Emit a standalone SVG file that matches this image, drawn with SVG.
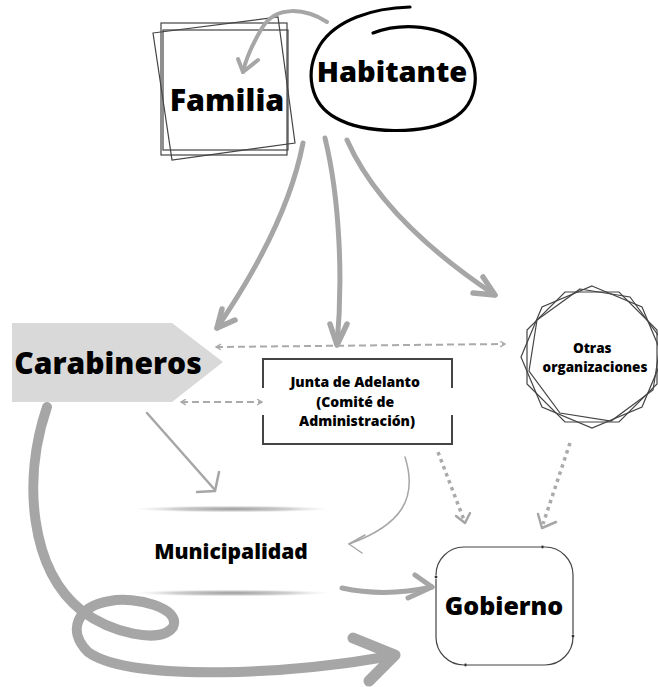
<svg xmlns="http://www.w3.org/2000/svg" width="658" height="687" viewBox="0 0 658 687">
<defs>
<style>
.lbl{font-family:"Open Sans","Noto Sans","DejaVu Sans",sans-serif;font-weight:800;fill:#000;text-anchor:middle}
.thin{fill:none;stroke:#444;stroke-width:1.2}
.g{fill:none;stroke:#a6a6a6;stroke-linecap:round;stroke-linejoin:round}
.dash{fill:none;stroke:#aaa;stroke-width:2;stroke-dasharray:7 4}
.dot{fill:none;stroke:#aaa;stroke-width:3.5;stroke-dasharray:3.5 4}
</style>
<marker id="ch" viewBox="0 0 10 10" refX="9" refY="5" markerWidth="7" markerHeight="7" orient="auto-start-reverse" markerUnits="userSpaceOnUse">
<path d="M2,1 L9,5 L2,9" fill="none" stroke="#aaa" stroke-width="2"/>
</marker>
<radialGradient id="sh" cx="0.5" cy="0.5" r="0.5">
<stop offset="0" stop-color="#999" stop-opacity="1"/>
<stop offset="0.6" stop-color="#bbb" stop-opacity="0.7"/>
<stop offset="1" stop-color="#ddd" stop-opacity="0"/>
</radialGradient>
</defs>
<rect width="658" height="687" fill="#fff"/>

<g id="familia">
<rect x="161" y="23" width="126" height="132" class="thin"/>
<rect x="163" y="30" width="125" height="120" class="thin"/>
<polygon points="153,33 278,17 295,143 172,160" class="thin"/>
<text x="227" y="111" class="lbl" font-size="30.5">Familia</text>
</g>

<g id="habitante">
<path d="M410,7 C372,8 336,20 320,45 C304,72 310,104 336,118 C364,134 424,135 452,119 C480,103 482,66 462,45 C442,25 402,22 373,33" fill="none" stroke="#000" stroke-width="3.2" stroke-linecap="round"/>
<text x="392" y="82" class="lbl" font-size="29">Habitante</text>
</g>

<g id="carabineros">
<polygon points="12,323 172,323 223,362 172,402 12,402" fill="#d9d9d9"/>
<text x="108" y="374" class="lbl" font-size="30">Carabineros</text>
</g>

<g id="junta">
<path d="M263,388 V359 H452 V388 M263,415 V444 H452 V415" fill="none" stroke="#444" stroke-width="2"/>
<text class="lbl" font-size="14">
<tspan x="357" y="387">Junta de Adelanto</tspan>
<tspan x="357" y="407">(Comité de</tspan>
<tspan x="357" y="426">Administración)</tspan>
</text>
</g>

<g id="otras">
<polygon points="592,286 642,307 663,357 642,407 592,428 542,407 521,357 542,307" class="thin"/>
<polygon points="565,292 619,292 657,330 657,384 619,422 565,422 527,384 527,330" class="thin"/>
<polygon points="580,289 630,297 661,339 653,390 611,421 560,413 529,371 537,320" class="thin"/>
<text class="lbl" font-size="13.5">
<tspan x="594" y="353">Otras</tspan>
<tspan x="595" y="372">organizaciones</tspan>
</text>
</g>

<g id="municipalidad">
<ellipse cx="232" cy="509" rx="98" ry="3.5" fill="url(#sh)"/>
<ellipse cx="232" cy="593" rx="98" ry="3.5" fill="url(#sh)"/>
<text x="231" y="559" class="lbl" font-size="21">Municipalidad</text>
</g>

<g id="gobierno">
<path d="M541,547 H464 A28,28 0 0 0 436,575" class="thin"/>
<path d="M436,579 V637 A28,28 0 0 0 464,665" class="thin"/>
<path d="M467,665 H545 A28,28 0 0 0 573,637" class="thin"/>
<path d="M573,634 V575 A28,28 0 0 0 545,547 H544" class="thin"/>
<circle cx="436" cy="577" r="1.4" fill="#333"/>
<circle cx="465.5" cy="665" r="1.4" fill="#333"/>
<circle cx="573" cy="636" r="1.4" fill="#333"/>
<circle cx="542.5" cy="547" r="1.4" fill="#333"/>
<text x="504" y="615" class="lbl" font-size="25">Gobierno</text>
</g>

<g id="connectors">
<path d="M327,22 C305,8 276,5 262,28 C252,45 246,58 243,72" class="g" stroke-width="4"/>
<path d="M238,59 L243,72 L258,60" class="g" stroke-width="4"/>
<path d="M303,143 C292,200 262,262 217,328" class="g" stroke-width="5"/>
<path d="M222,309 L217,328 L235,320" class="g" stroke-width="5.5"/>
<path d="M325,138 C340,200 343,280 337,345" class="g" stroke-width="5"/>
<path d="M330,324 L337,345 L347,324" class="g" stroke-width="5.5"/>
<path d="M347,140 C370,192 420,245 495,295" class="g" stroke-width="5"/>
<path d="M483,277 L495,295 L473,293" class="g" stroke-width="5.5"/>
<path d="M216,347 L505,344" class="dash" marker-start="url(#ch)" marker-end="url(#ch)"/>
<path d="M181,402 L262,402" class="dash" marker-start="url(#ch)" marker-end="url(#ch)"/>
<path d="M147,413 L215,490" class="g" stroke-width="2.5"/>
<path d="M197,492 L215,491 L219,472" class="g" stroke-width="2.5"/>
<path d="M405,457 C418,498 402,525 349,544" class="g" stroke-width="1.5"/>
<path d="M365,535 L349,544 L362,553" class="g" stroke-width="1.5"/>
<path d="M438,452 L464,520" class="dot"/>
<path d="M456,516 L465,523 L470,513" class="g" stroke-width="2.5"/>
<path d="M570,443 L543,524" class="dot"/>
<path d="M538,514 L542,528 L556,522" class="g" stroke-width="2.5"/>
<path d="M342,588 C370,594 400,594 432,587" class="g" stroke-width="5"/>
<path d="M415,575 L432,587 L408,598" class="g" stroke-width="5"/>
<path d="M47,407 C22,480 30,570 82,611 C110,632 160,645 173,627 C182,608 135,596 110,601 C78,606 66,630 88,652 C130,683 300,674 395,655" class="g" stroke-width="10"/>
<path d="M353,638 L395,655 L369,681" class="g" stroke-width="11"/>
</g>
</svg>
